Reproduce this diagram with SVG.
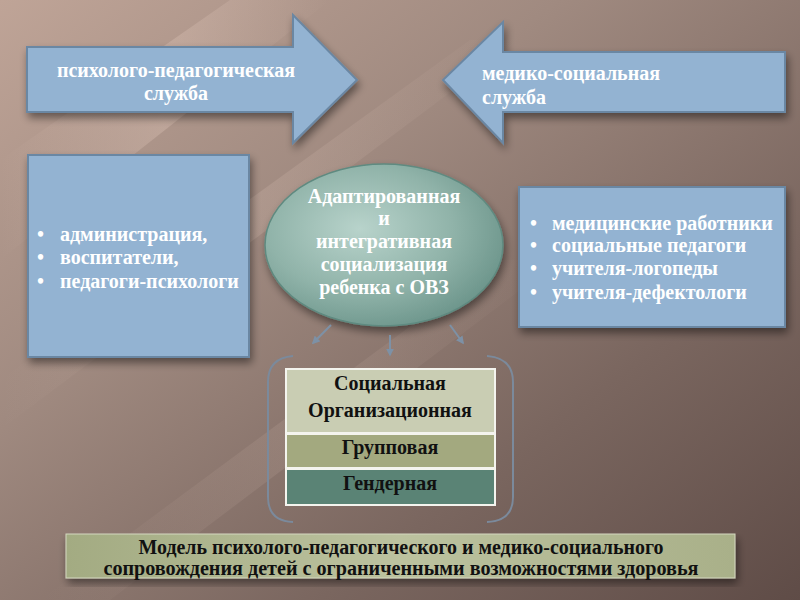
<svg xmlns="http://www.w3.org/2000/svg" width="800" height="600" viewBox="0 0 800 600">
<defs>
<linearGradient id="bg" x1="0" y1="0" x2="1" y2="1">
<stop offset="0" stop-color="#bfa497"/>
<stop offset="0.35" stop-color="#a08a80"/>
<stop offset="0.7" stop-color="#7a665f"/>
<stop offset="1" stop-color="#5f4c47"/>
</linearGradient>
<linearGradient id="streak" x1="0" y1="0" x2="1" y2="0">
<stop offset="0" stop-color="#e8cfc2" stop-opacity="0"/>
<stop offset="0.5" stop-color="#e8cfc2" stop-opacity="0.35"/>
<stop offset="1" stop-color="#e8cfc2" stop-opacity="0"/>
</linearGradient>
<radialGradient id="ell" cx="0.4" cy="0.4" r="0.65">
<stop offset="0" stop-color="#b8d3cb"/>
<stop offset="0.6" stop-color="#90b3a9"/>
<stop offset="1" stop-color="#6c958b"/>
</radialGradient>
<linearGradient id="banner" x1="0" y1="0" x2="1" y2="0">
<stop offset="0" stop-color="#a3ab82"/>
<stop offset="0.5" stop-color="#bcc29f"/>
<stop offset="1" stop-color="#a9b089"/>
</linearGradient>
<filter id="sh" x="-10%" y="-10%" width="125%" height="130%">
<feGaussianBlur in="SourceAlpha" stdDeviation="4"/>
<feOffset dx="2" dy="5" result="b"/>
<feComponentTransfer><feFuncA type="linear" slope="0.45"/></feComponentTransfer>
<feMerge><feMergeNode/><feMergeNode in="SourceGraphic"/></feMerge>
</filter>
<marker id="ah" viewBox="0 0 10 10" refX="8" refY="5" markerWidth="4" markerHeight="4" orient="auto">
<path d="M0,0 L10,5 L0,10 z" fill="#7d91a6"/>
</marker>
<style>
.blue{fill:#93b3d2;stroke:#6b87a3;stroke-width:2}
.wt{font-family:"Liberation Serif","Times New Roman",serif;font-weight:bold;fill:#ffffff;font-size:20px}
.bt{font-family:"Liberation Serif","Times New Roman",serif;font-weight:bold;fill:#111111;font-size:20px}
.conn{stroke:#7d91a6;stroke-width:2;fill:none}
.brk{stroke:#7b8a9c;stroke-width:2;fill:none}
</style>
</defs>
<rect width="800" height="600" fill="url(#bg)"/>
<polygon points="0,160 0,260 330,0 230,0" fill="url(#streak)" opacity="0.8"/>
<polygon points="0,380 0,430 520,40 470,40" fill="url(#streak)" opacity="0.5"/>
<polygon points="40,600 110,600 560,260 500,260" fill="url(#streak)" opacity="0.35"/>

<g id="arrow-left">
<polygon class="blue" filter="url(#sh)" points="27,47 293,47 293,15 357,80 293,143 293,112 27,112"/>
<text class="wt" text-anchor="middle" x="176" y="77">психолого-педагогическая</text>
<text class="wt" text-anchor="middle" x="176" y="100">служба</text>
</g>
<g id="arrow-right">
<polygon class="blue" filter="url(#sh)" points="785,52 503,52 503,22 443,80 503,143 503,112 785,112"/>
<text class="wt" x="482" y="80">медико-социальная</text>
<text class="wt" x="482" y="104">служба</text>
</g>
<g id="box-left">
<rect class="blue" filter="url(#sh)" x="28" y="155" width="221" height="202"/>
<text class="wt" x="37" y="241">•</text><text class="wt" x="60" y="241">администрация,</text>
<text class="wt" x="37" y="264">•</text><text class="wt" x="60" y="264">воспитатели,</text>
<text class="wt" x="37" y="288">•</text><text class="wt" x="60" y="288">педагоги-психологи</text>
</g>
<g id="box-right">
<rect class="blue" filter="url(#sh)" x="519" y="187" width="266" height="140"/>
<text class="wt" x="530" y="230">•</text><text class="wt" x="552" y="230">медицинские работники</text>
<text class="wt" x="530" y="252">•</text><text class="wt" x="552" y="252">социальные педагоги</text>
<text class="wt" x="530" y="275">•</text><text class="wt" x="552" y="275">учителя-логопеды</text>
<text class="wt" x="530" y="299">•</text><text class="wt" x="552" y="299">учителя-дефектологи</text>
</g>
<g id="center-ellipse">
<ellipse cx="384" cy="245" rx="119" ry="81" fill="url(#ell)" stroke="#5f8a80" stroke-width="1.5" filter="url(#sh)"/>
<g class="wt" text-anchor="middle">
<text x="384" y="203">Адаптированная</text>
<text x="384" y="225">и</text>
<text x="384" y="248">интегративная</text>
<text x="384" y="271">социализация</text>
<text x="384" y="294">ребенка с ОВЗ</text>
</g>
</g>
<g id="connectors">
<line class="conn" x1="331" y1="325" x2="313" y2="343" marker-end="url(#ah)"/>
<line class="conn" x1="390" y1="335" x2="390" y2="355" marker-end="url(#ah)"/>
<line class="conn" x1="450" y1="325" x2="463" y2="343" marker-end="url(#ah)"/>
<path class="brk" d="M293,356 Q268,358 268,382 L268,497 Q268,521 293,522"/>
<path class="brk" d="M487,356 Q513,358 513,382 L513,497 Q513,521 487,522"/>
</g>
<g id="table">
<rect x="285" y="368" width="211" height="138" fill="#f4f4ee"/>
<rect x="287" y="370" width="207" height="62" fill="#c9cdb3"/>
<rect x="287" y="435" width="207" height="32" fill="#a3a97f"/>
<rect x="287" y="470" width="207" height="34" fill="#5a8375"/>
<g class="bt" text-anchor="middle">
<text x="390" y="390">Социальная</text>
<text x="390" y="417">Организационная</text>
<text x="390" y="454">Групповая</text>
<text x="390" y="490">Гендерная</text>
</g>
</g>
<g id="banner">
<rect x="66" y="534" width="669" height="44" fill="url(#banner)" stroke="#d4d8c0" stroke-width="1" filter="url(#sh)"/>
<g class="bt" text-anchor="middle" font-size="17px">
<text x="401" y="554" textLength="525" lengthAdjust="spacingAndGlyphs">Модель психолого-педагогического и медико-социального</text>
<text x="401" y="575" textLength="595" lengthAdjust="spacingAndGlyphs">сопровождения детей с ограниченными возможностями здоровья</text>
</g>
</g>
</svg>
